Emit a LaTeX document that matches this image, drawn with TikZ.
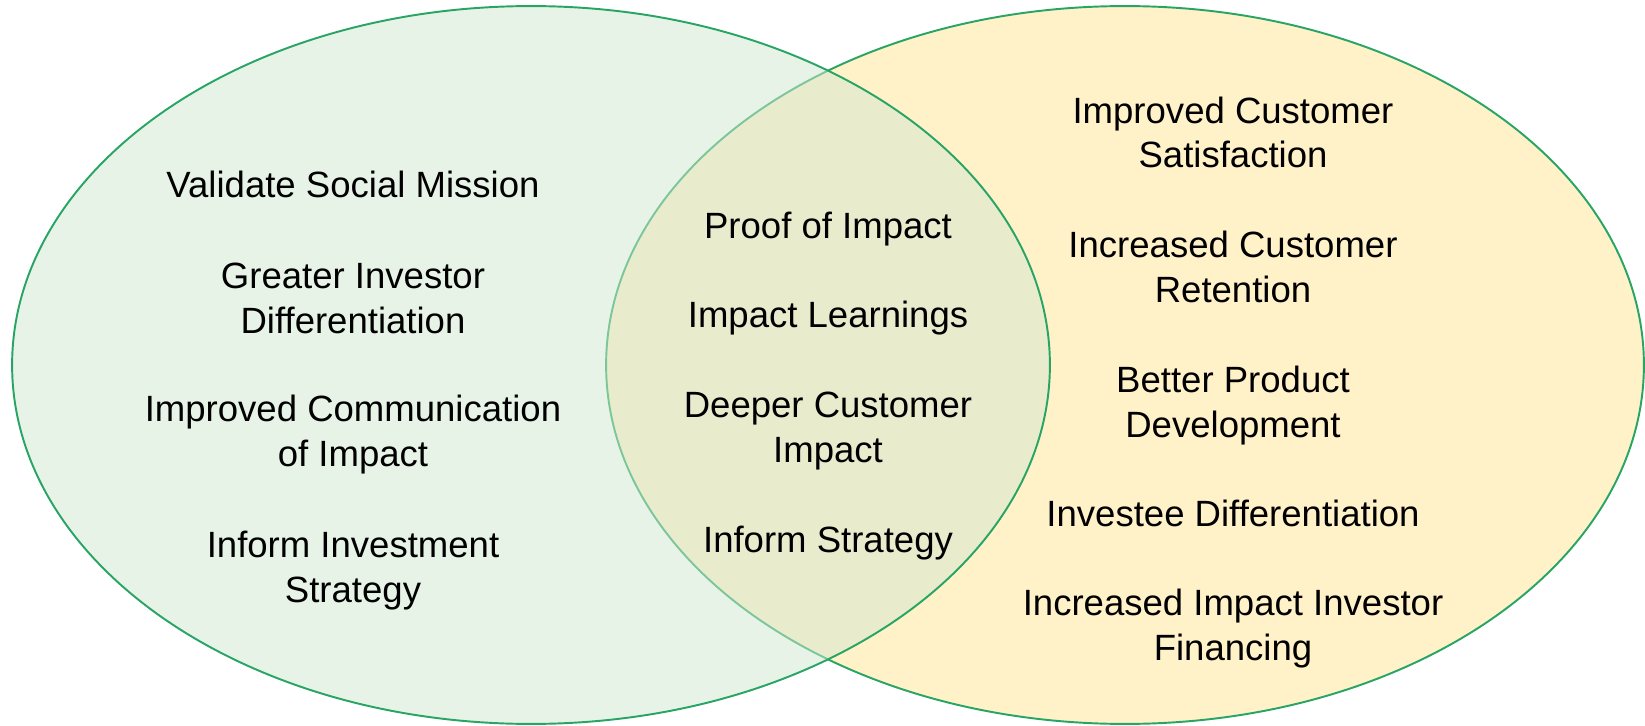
\documentclass[tikz,border=0pt]{standalone}
\usepackage{fontspec}
\setmainfont{Liberation Sans}
\definecolor{setline}{RGB}{40,165,100}
\definecolor{leftfill}{RGB}{210,232,210}
\definecolor{rightfill}{RGB}{255,241,200}

\begin{document}
\begin{tikzpicture}[x=0.02cm,y=-0.02cm,
  set/.style={draw=setline,line width=1.1pt},
  benefit/.style={align=center,anchor=base,inner sep=0pt,font=\fontsize{20.8}{25.2}\selectfont}]
\useasboundingbox (0,0) rectangle (1645,726);
\draw[set,fill=rightfill] (1125,365) ellipse [x radius=10.38cm,y radius=7.18cm];
\draw[set,fill=leftfill,fill opacity=0.5] (531,365) ellipse [x radius=10.38cm,y radius=7.18cm];
% left set (base = last line)
\node[benefit] (mission) at (353,197) {Validate Social Mission};
\node[benefit] (investor) at (353,333) {Greater Investor\\Differentiation};
\node[benefit] (communication) at (353,466) {Improved Communication\\of Impact};
\node[benefit] (investment) at (353,602) {Inform Investment\\Strategy};
% both
\node[benefit] (proof) at (828,238) {Proof of Impact};
\node[benefit] (learnings) at (828,327) {Impact Learnings};
\node[benefit] (deeper) at (828,462) {Deeper Customer\\Impact};
\node[benefit] (strategy) at (828,552) {Inform Strategy};
% right set
\node[benefit] (satisfaction) at (1233,168) {Improved Customer\\Satisfaction};
\node[benefit] (retention) at (1233,302) {Increased Customer\\Retention};
\node[benefit] (product) at (1233,437) {Better Product\\Development};
\node[benefit] (investee) at (1233,526) {Investee Differentiation};
\node[benefit] (financing) at (1233,660) {Increased Impact Investor\\Financing};
\end{tikzpicture}
\end{document}
